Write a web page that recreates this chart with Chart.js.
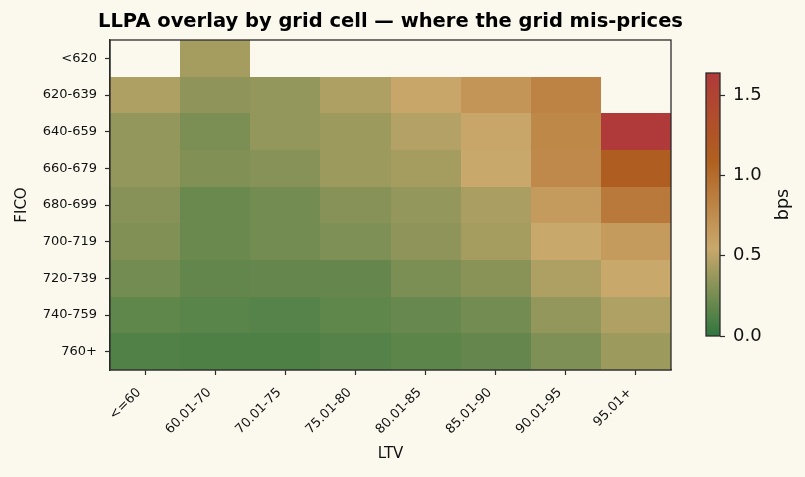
<!DOCTYPE html>
<html>
<head>
<meta charset="utf-8">
<script src="https://cdn.jsdelivr.net/npm/chart.js@4.4.1/dist/chart.umd.min.js"></script>
<style>
  html, body { margin: 0; padding: 0; background: #fbf8ee; }
  #wrap { position: relative; width: 805px; height: 477px; }
  canvas { position: absolute; left: 0; top: 0; }
</style>
</head>
<body>
<div id="wrap">
  <canvas id="main" width="805" height="477"></canvas>
  <canvas id="cbar" width="805" height="477"></canvas>
</div>
<script>
// ---------- data ----------
const LTV_LABELS = ['<=60', '60.01-70', '70.01-75', '75.01-80', '80.01-85', '85.01-90', '90.01-95', '95.01+'];
const FICO_LABELS = ['<620', '620-639', '640-659', '660-679', '680-699', '700-719', '720-739', '740-759', '760+'];

// LLPA overlay (bps) per FICO row, one value per LTV column (null = no cell)
const rowLt620   = [null, 0.42, null, null, null, null, null, null];
const row620_639 = [0.45, 0.34, 0.36, 0.45, 0.57, 0.68, 0.83, null];
const row640_659 = [0.36, 0.27, 0.36, 0.39, 0.47, 0.56, 0.79, 1.64];
const row660_679 = [0.36, 0.29, 0.31, 0.39, 0.42, 0.55, 0.78, 1.13];
const row680_699 = [0.31, 0.21, 0.24, 0.31, 0.36, 0.44, 0.65, 0.90];
const row700_719 = [0.29, 0.21, 0.24, 0.28, 0.34, 0.42, 0.55, 0.65];
const row720_739 = [0.24, 0.18, 0.19, 0.19, 0.27, 0.32, 0.45, 0.55];
const row740_759 = [0.17, 0.15, 0.14, 0.17, 0.20, 0.24, 0.36, 0.455];
const row760p    = [0.12, 0.11, 0.11, 0.13, 0.16, 0.19, 0.28, 0.39];

const CBAR_TICKS = [0.0, 0.5, 1.0, 1.5];

// ---------- colormap ----------
const CMAP_COLORS = ['#2f763d', '#c9a86b', '#b0601f', '#b03a3a'];

const GRID = [rowLt620, row620_639, row640_659, row660_679, row680_699, row700_719, row720_739, row740_759, row760p];
const VMIN = 0;
const VMAX = Math.max(...GRID.flat().filter(v => v !== null));

function hexToRgb(h) {
  const n = parseInt(h.slice(1), 16);
  return [(n >> 16) & 255, (n >> 8) & 255, n & 255];
}
const CMAP_RGB = CMAP_COLORS.map(hexToRgb);
function cmap(t) {
  t = Math.max(0, Math.min(1, t));
  const seg = CMAP_RGB.length - 1;
  const p = t * seg;
  const i = Math.min(seg - 1, Math.floor(p));
  const f = p - i;
  const a = CMAP_RGB[i], b = CMAP_RGB[i + 1];
  const c = a.map((v, k) => Math.round(v + (b[k] - v) * f));
  return `rgb(${c[0]},${c[1]},${c[2]})`;
}

const cells = [];
GRID.forEach((row, r) => row.forEach((v, c) => {
  if (v !== null) cells.push({ x: c, y: r, v: v });
}));

const BG = '#fbf8ee';
const INK = '#111111';
const SPINE = '#2b2b2b';
const FONT = "'DejaVu Sans', sans-serif";

const bgPlugin = {
  id: 'bg',
  beforeDraw(chart) {
    const ctx = chart.ctx;
    ctx.save();
    ctx.fillStyle = BG;
    ctx.fillRect(0, 0, chart.width, chart.height);
    ctx.restore();
  }
};

const heatPlugin = {
  id: 'heat',
  beforeDatasetsDraw(chart) {
    const ctx = chart.ctx;
    const xs = chart.scales.x, ys = chart.scales.y;
    ctx.save();
    chart.data.datasets[0].data.forEach(d => {
      const x0 = Math.round(xs.getPixelForValue(d.x - 0.5));
      const x1 = Math.round(xs.getPixelForValue(d.x + 0.5));
      const y0 = Math.round(ys.getPixelForValue(d.y - 0.5));
      const y1 = Math.round(ys.getPixelForValue(d.y + 0.5));
      ctx.fillStyle = cmap((d.v - VMIN) / (VMAX - VMIN));
      ctx.fillRect(Math.min(x0, x1), Math.min(y0, y1), Math.abs(x1 - x0), Math.abs(y1 - y0));
    });
    ctx.restore();
  },
  afterDatasetsDraw(chart) {
    const ctx = chart.ctx;
    const a = chart.chartArea;
    ctx.save();
    ctx.strokeStyle = SPINE;
    ctx.lineWidth = 1.3;
    ctx.strokeRect(a.left, a.top, a.right - a.left, a.bottom - a.top);
    // title centred over the axes
    ctx.fillStyle = '#000';
    ctx.font = "bold 19.5px " + FONT;
    ctx.textAlign = 'center';
    ctx.textBaseline = 'middle';
    ctx.fillText('LLPA overlay by grid cell \u2014 where the grid mis-prices', (a.left + a.right) / 2, 22);
    ctx.restore();
  }
};

new Chart(document.getElementById('main'), {
  type: 'scatter',
  data: { datasets: [{ data: cells, pointRadius: 0, pointHoverRadius: 0 }] },
  options: {
    responsive: false,
    animation: false,
    events: [],
    layout: { padding: { top: 40, right: 134, left: 0, bottom: 0 } },
    plugins: { legend: { display: false }, tooltip: { enabled: false }, title: { display: false } },
    scales: {
      x: {
        type: 'linear', min: -0.5, max: 7.5,
        afterBuildTicks: s => { s.ticks = LTV_LABELS.map((_, i) => ({ value: i })); },
        afterFit: s => { s.height = 107; },
        ticks: {
          callback: v => LTV_LABELS[v], maxRotation: 45, minRotation: 45,
          font: { family: FONT, size: 13 }, color: INK, padding: 10, labelOffset: -6, autoSkip: false
        },
        grid: { display: true, drawOnChartArea: false, drawTicks: true, tickLength: 5, tickColor: SPINE, tickWidth: 1.2 },
        border: { display: true, color: SPINE, width: 1.3 },
        title: { display: true, text: 'LTV', font: { family: FONT, size: 15 }, color: INK, padding: { top: 0, bottom: 14 } }
      },
      y: {
        type: 'linear', min: -0.5, max: 8.5, reverse: true,
        afterBuildTicks: s => { s.ticks = FICO_LABELS.map((_, i) => ({ value: i })); },
        afterFit: s => { s.width = 110; },
        ticks: { callback: v => FICO_LABELS[v], font: { family: FONT, size: 13 }, color: INK, padding: 8, autoSkip: false },
        grid: { display: true, drawOnChartArea: false, drawTicks: true, tickLength: 5, tickColor: SPINE, tickWidth: 1.2 },
        border: { display: true, color: SPINE, width: 1.3 },
        title: { display: true, text: 'FICO', font: { family: FONT, size: 15 }, color: INK, padding: { top: 13, bottom: 0 } }
      }
    }
  },
  plugins: [bgPlugin, heatPlugin]
});

// ---------- colour bar ----------
const cbarPlugin = {
  id: 'cbarFill',
  beforeDatasetsDraw(chart) {
    const ctx = chart.ctx;
    const a = chart.chartArea;
    const ys = chart.scales.y;
    const yBot = ys.getPixelForValue(VMIN), yTop = ys.getPixelForValue(VMAX);
    const g = ctx.createLinearGradient(0, yBot, 0, yTop);
    CMAP_COLORS.forEach((c, i) => g.addColorStop(i / (CMAP_COLORS.length - 1), c));
    ctx.save();
    ctx.fillStyle = g;
    ctx.fillRect(a.left, yTop, a.right - a.left, yBot - yTop);
    ctx.strokeStyle = SPINE;
    ctx.lineWidth = 1.3;
    ctx.strokeRect(a.left, yTop, a.right - a.left, yBot - yTop);
    // colour bar label, reading bottom to top
    ctx.translate(783, (yTop + yBot) / 2);
    ctx.rotate(-Math.PI / 2);
    ctx.fillStyle = INK;
    ctx.font = "17.5px " + FONT;
    ctx.textAlign = 'center';
    ctx.textBaseline = 'middle';
    ctx.fillText('bps', 0, 0);
    ctx.restore();
  }
};

new Chart(document.getElementById('cbar'), {
  type: 'scatter',
  data: { datasets: [{ data: [], pointRadius: 0 }] },
  options: {
    responsive: false,
    animation: false,
    events: [],
    layout: { padding: { top: 73, right: 0, left: 706, bottom: 141 } },
    plugins: { legend: { display: false }, tooltip: { enabled: false } },
    scales: {
      x: { display: false, min: 0, max: 1 },
      y: {
        type: 'linear', position: 'right', min: VMIN, max: VMAX,
        afterBuildTicks: s => { s.ticks = CBAR_TICKS.map(v => ({ value: v })); },
        afterFit: s => { s.width = 85; },
        ticks: { callback: v => v.toFixed(1), font: { family: FONT, size: 18 }, color: INK, padding: 8 },
        grid: { display: true, drawOnChartArea: false, drawTicks: true, tickLength: 5, tickColor: SPINE, tickWidth: 1.2 },
        border: { display: false }
      }
    }
  },
  plugins: [cbarPlugin]
});
</script>
</body>
</html>
